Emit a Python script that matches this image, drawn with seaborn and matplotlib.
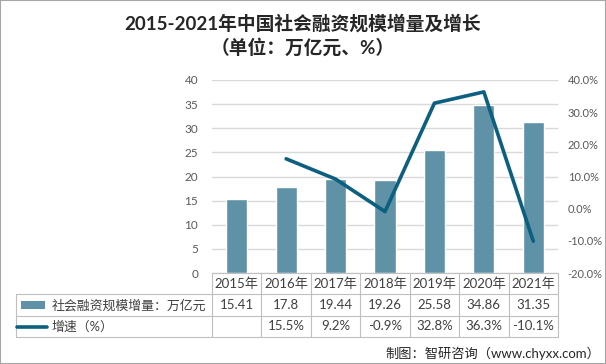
import matplotlib
matplotlib.use('Agg')
import matplotlib.pyplot as plt
import matplotlib.transforms as mtransforms
from matplotlib.lines import Line2D
from matplotlib.patches import Rectangle
import seaborn as sns
import numpy as np
import pandas as pd

years = ['2015年', '2016年', '2017年', '2018年', '2019年', '2020年', '2021年']
amounts = [15.41, 17.8, 19.44, 19.26, 25.58, 34.86, 31.35]
growth = [np.nan, 15.5, 9.2, -0.9, 32.8, 36.3, -10.1]
bar_label = '社会融资规模增量：万亿元'
line_label = '增速（%）'

sns.set_theme(style="white")
plt.rcParams['font.family'] = ['Lato', 'Noto Sans CJK SC', 'DejaVu Sans']

BAR_C = '#5f92a7'
LINE_C = '#0c5f7f'
GRID_C = '#d9d9d9'
TXT_C = '#404040'
TICK_C = '#595959'

W, H = 606, 364
fig = plt.figure(figsize=(W / 100, H / 100), dpi=100)
fig.patch.set_facecolor('white')


def fy(py):
    return 1 - py / H


def fx(px):
    return px / W


x0, x1, ytop, ybot = 212, 558, 80, 273
ax = fig.add_axes([fx(x0), fy(ybot), fx(x1 - x0), (ybot - ytop) / H])

df = pd.DataFrame({'year': years, 'amount': amounts, 'growth': growth})
sns.barplot(data=df, x='year', y='amount', color=BAR_C, width=0.43,
            saturation=1, ax=ax, zorder=2)
ax.set_xlim(-0.5, 6.5)
ax.set_ylim(0, 40)
ax.set_yticks(np.arange(0, 41, 5))
ax.yaxis.grid(True, color=GRID_C, lw=1, zorder=0)
ax.set_axisbelow(True)
ax.set_xticks([])
ax.set_xlabel('')
ax.set_ylabel('')
for s in ax.spines.values():
    s.set_visible(False)
ax.tick_params(axis='y', length=0, pad=10, labelsize=8.5, labelcolor=TICK_C)

ax2 = ax.twinx()
sns.lineplot(x=np.arange(len(years)), y=df['growth'], color=LINE_C, lw=2.6, ax=ax2)
ax2.set_ylim(-20, 40)
ax2.set_yticks(np.arange(-20, 41, 10))
ax2.set_yticklabels([f'{v:.1f}%' for v in np.arange(-20, 41, 10)])
ax2.set_ylabel('')
for s in ax2.spines.values():
    s.set_visible(False)
ax2.tick_params(axis='y', length=0, pad=7, labelsize=8, labelcolor=TICK_C)
ax2.set_xlim(-0.5, 6.5)

# data table under the chart
bt = mtransforms.blended_transform_factory(ax.transData, fig.transFigure)
rows = [273, 294, 316, 337]
tx_left = 16
line_kw = dict(color='#bfbfbf', lw=0.8)
fig.add_artist(Line2D([fx(x0), fx(x1)], [fy(rows[0])] * 2, transform=fig.transFigure, **line_kw))
for r in rows[1:]:
    fig.add_artist(Line2D([fx(tx_left), fx(x1)], [fy(r)] * 2, transform=fig.transFigure, **line_kw))
fig.add_artist(Line2D([fx(tx_left)] * 2, [fy(rows[1]), fy(rows[3])], transform=fig.transFigure, **line_kw))
for k in range(len(years) + 1):
    fig.add_artist(Line2D([k - 0.5] * 2, [fy(rows[0]), fy(rows[3])], transform=bt, **line_kw))
for i, (yr, a, g) in enumerate(zip(years, amounts, growth)):
    fig.text(i, fy((rows[0] + rows[1]) / 2), yr, transform=bt, ha='center', va='center',
             fontsize=9.5, color=TXT_C)
    fig.text(i, fy((rows[1] + rows[2]) / 2), str(a), transform=bt, ha='center', va='center',
             fontsize=9.5, color=TXT_C)
    if not np.isnan(g):
        fig.text(i, fy((rows[2] + rows[3]) / 2), f'{g:.1f}%', transform=bt, ha='center',
                 va='center', fontsize=9.5, color=TXT_C)

# legend keys in the table
ym = (rows[1] + rows[2]) / 2
fig.add_artist(Rectangle((fx(21), fy(ym + 4)), fx(24), 8 / H, transform=fig.transFigure,
                         facecolor=BAR_C, edgecolor='none'))
fig.text(fx(52), fy(ym), bar_label, ha='left', va='center', fontsize=9.3, color=TXT_C)
ym = (rows[2] + rows[3]) / 2
fig.add_artist(Line2D([fx(17), fx(47)], [fy(ym)] * 2, transform=fig.transFigure,
                      color=LINE_C, lw=2.6))
fig.text(fx(52), fy(ym), line_label, ha='left', va='center', fontsize=9.3, color=TXT_C)

fig.text(0.5, fy(23), '2015-2021年中国社会融资规模增量及增长', ha='center', va='center',
         fontsize=13.5, fontweight='bold', color='#262626')
fig.text(0.5, fy(47), '（单位：万亿元、%）', ha='center', va='center',
         fontsize=13.5, fontweight='bold', color='#262626')
fig.text(fx(600), fy(353), '制图：智研咨询（www.chyxx.com）', ha='right', va='center',
         fontsize=9.5, color='#262626')

fig.add_artist(Rectangle((0, 0), 1, 1, transform=fig.transFigure, fill=False,
                         edgecolor='#a6a6a6', lw=1.5))

fig.savefig('out.png', dpi=100)
plt.close(fig)
